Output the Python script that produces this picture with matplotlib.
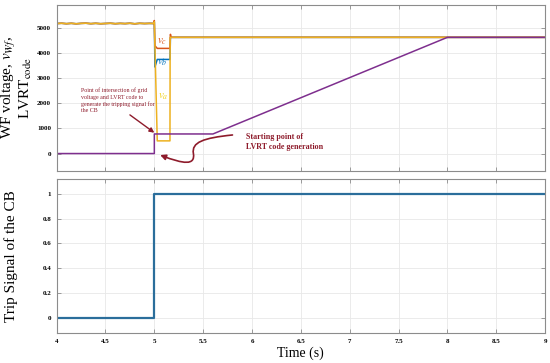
import matplotlib
matplotlib.use("Agg")
import matplotlib.pyplot as plt
from matplotlib.path import Path
from matplotlib.patches import FancyArrowPatch

# ==========================================
# DATA
# ==========================================
# pre-fault ripple of the grid voltage, 4.0 .. 5.0 s
T_PRE = [4.0, 4.05, 4.1, 4.15, 4.2, 4.25, 4.3, 4.35, 4.4, 4.45, 4.5,
         4.55, 4.6, 4.65, 4.7, 4.75, 4.8, 4.85, 4.9, 4.95, 4.995]
V_PRE = [5180, 5190, 5175, 5188, 5172, 5186, 5192, 5176, 5188, 5174, 5182,
         5190, 5175, 5186, 5178, 5190, 5172, 5188, 5180, 5186, 5182]

# phase a (yellow) during / after the fault
T_A = [5.0, 5.03, 5.16, 5.162, 9.0]
V_A = [5250, 505, 505, 4630, 4630]

# phase b (blue)
T_B = [5.0, 5.006, 5.03, 5.16, 5.165, 9.0]
V_B = [5250, 3450, 3750, 3750, 4630, 4630]

# phase c (orange)
T_C = [5.0, 5.005, 5.03, 5.16, 5.165, 5.17, 9.0]
V_C = [5300, 4300, 4190, 4190, 4750, 4630, 4630]

# LVRT code (purple)
T_LVRT = [4.0, 5.0, 5.0, 5.6, 8.0, 9.0]
V_LVRT = [0, 0, 780, 780, 4630, 4630]

# trip signal of the CB
T_TRIP = [4.0, 5.0, 5.0, 9.0]
V_TRIP = [0, 0, 1, 1]

X_TICKS = [4, 4.5, 5, 5.5, 6, 6.5, 7, 7.5, 8, 8.5, 9]
X_TICK_LABELS = ["4", "4.5", "5", "5.5", "6", "6.5", "7", "7.5", "8", "8.5", "9"]
Y1_TICKS = [0, 1000, 2000, 3000, 4000, 5000]
Y2_TICKS = [0, 0.2, 0.4, 0.6, 0.8, 1]
Y2_TICK_LABELS = ["0", "0.2", "0.4", "0.6", "0.8", "1"]

# MATLAB-ish colours
BLUE = "#0072BD"
ORANGE = "#D95319"
YELLOW = "#EDB120"
PURPLE = "#7E2F8E"
TRIP_BLUE = "#2B6E9B"
DARK_RED = "#8E1B2B"

plt.rcParams["font.family"] = ["Liberation Serif", "DejaVu Serif"]
plt.rcParams["mathtext.fontset"] = "stix"


def style_axes(ax):
    ax.grid(True, color="#e8e8e8", linewidth=0.6)
    ax.set_axisbelow(True)
    for s in ax.spines.values():
        s.set_color("#8c8c8c")
        s.set_linewidth(0.8)
    ax.tick_params(direction="in", length=3, width=0.6, color="#8c8c8c",
                   top=True, right=True, labelsize=5, pad=4)
    for lab in ax.get_xticklabels() + ax.get_yticklabels():
        lab.set_fontweight("bold")


fig = plt.figure(figsize=(5.5, 3.63), dpi=100)
ax1 = fig.add_axes([0.103, 0.530, 0.888, 0.457])
ax2 = fig.add_axes([0.103, 0.082, 0.888, 0.425])

# ---------- top panel ----------
lw = 1.1
ax1.plot(T_PRE + T_B, V_PRE + V_B, color=BLUE, linewidth=lw)
ax1.plot(T_PRE + T_C, V_PRE + V_C, color=ORANGE, linewidth=lw)
ax1.plot(T_PRE + T_A, V_PRE + V_A, color=YELLOW, linewidth=lw)
ax1.plot(T_LVRT, V_LVRT, color=PURPLE, linewidth=lw)

ax1.set_xlim(4, 9)
ax1.set_ylim(-680, 5930)
ax1.set_xticks(X_TICKS)
ax1.set_xticklabels([])
ax1.set_yticks(Y1_TICKS)
ax1.set_yticklabels([str(v) for v in Y1_TICKS])
style_axes(ax1)
ax1.set_ylabel("WF voltage, $v_{Wf}$,\nLVRT$_{\\mathrm{code}}$",
               fontsize=11, linespacing=1.0)
ax1.yaxis.set_label_coords(-0.047, 0.5)

# phase labels
ax1.text(5.075, 4455, "$v_c$", color=ORANGE, fontsize=8, ha="center", va="center")
ax1.text(5.085, 3608, "$v_b$", color=BLUE, fontsize=8, ha="center", va="center")
ax1.text(5.095, 2255, "$v_a$", color="#F2D21B", fontsize=8, ha="center", va="center")

# annotations
ax1.text(4.25, 2620,
         "Point of intersection of grid\nvoltage and LVRT code to\n"
         "generate the tripping signal for\nthe CB",
         color=DARK_RED, fontsize=4.2, ha="left", va="top", linespacing=1.35)
ax1.annotate("", xy=(5.0, 830), xytext=(4.75, 1540),
             arrowprops=dict(arrowstyle="-|>", color=DARK_RED, lw=1.0,
                             mutation_scale=7, shrinkA=0, shrinkB=0))

ax1.text(5.94, 830, "Starting point of\nLVRT code generation",
         color=DARK_RED, fontsize=5.8, fontweight="bold", ha="left", va="top",
         linespacing=1.3)
curve = Path([(5.80, 740), (5.50, 620), (5.38, 450), (5.40, 0),
              (5.42, -480), (5.30, -420), (5.06, -60)],
             [Path.MOVETO, Path.CURVE4, Path.CURVE4, Path.CURVE4,
              Path.CURVE4, Path.CURVE4, Path.CURVE4])
arrow = FancyArrowPatch(path=curve, arrowstyle="-|>", color=DARK_RED,
                        lw=1.2, mutation_scale=8, transform=ax1.transData)
ax1.add_patch(arrow)

# ---------- bottom panel ----------
ax2.plot(T_TRIP, V_TRIP, color=TRIP_BLUE, linewidth=1.6)
ax2.set_xlim(4, 9)
ax2.set_ylim(-0.125, 1.12)
ax2.set_xticks(X_TICKS)
ax2.set_xticklabels(X_TICK_LABELS)
ax2.set_yticks(Y2_TICKS)
ax2.set_yticklabels(Y2_TICK_LABELS)
style_axes(ax2)
ax2.set_ylabel("Trip Signal of the CB", fontsize=11)
ax2.yaxis.set_label_coords(-0.08, 0.5)
ax2.set_xlabel("Time (s)", fontsize=10, labelpad=2)

fig.savefig("out.png", dpi=100)
